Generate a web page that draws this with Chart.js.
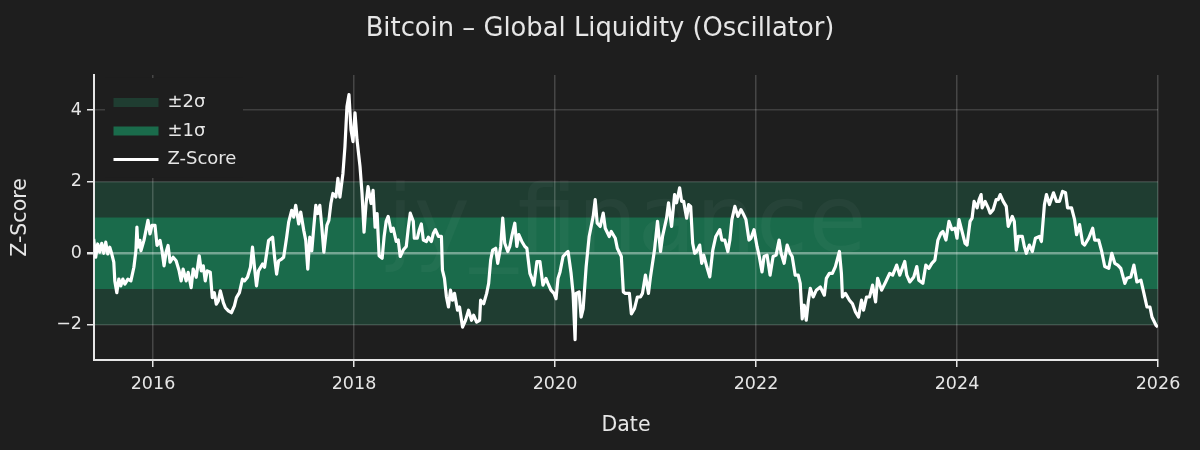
<!DOCTYPE html>
<html>
<head>
<meta charset="utf-8">
<title>Bitcoin – Global Liquidity (Oscillator)</title>
<script src="https://cdn.jsdelivr.net/npm/chart.js@4"></script>
<style>
  html, body { margin: 0; padding: 0; background: #1e1e1e; }
  canvas { display: block; }
</style>
</head>
<body>
<canvas id="liquidityChart" width="1200" height="450"></canvas>
<script>
// Values
const years = [
  2015.41, 2015.43, 2015.45, 2015.47, 2015.49, 2015.51, 2015.53, 2015.55, 2015.57, 2015.59, 2015.61, 2015.62, 2015.64, 2015.66, 2015.68, 2015.70,
  2015.72, 2015.75, 2015.78, 2015.81, 2015.83, 2015.84, 2015.85, 2015.87, 2015.88, 2015.91, 2015.93, 2015.95, 2015.97, 2015.99, 2016.02, 2016.04,
  2016.07, 2016.09, 2016.11, 2016.13, 2016.15, 2016.17, 2016.20, 2016.23, 2016.26, 2016.28, 2016.30, 2016.33, 2016.35, 2016.38, 2016.40, 2016.43,
  2016.46, 2016.48, 2016.50, 2016.52, 2016.54, 2016.57, 2016.59, 2016.61, 2016.63, 2016.65, 2016.67, 2016.70, 2016.72, 2016.75, 2016.78, 2016.81,
  2016.83, 2016.86, 2016.89, 2016.91, 2016.94, 2016.97, 2016.99, 2017.01, 2017.03, 2017.05, 2017.09, 2017.11, 2017.15, 2017.19, 2017.21, 2017.23,
  2017.25, 2017.28, 2017.30, 2017.33, 2017.35, 2017.38, 2017.40, 2017.42, 2017.45, 2017.47, 2017.50, 2017.52, 2017.54, 2017.56, 2017.58, 2017.60,
  2017.62, 2017.64, 2017.66, 2017.68, 2017.70, 2017.73, 2017.75, 2017.77, 2017.79, 2017.82, 2017.84, 2017.86, 2017.89, 2017.91, 2017.93, 2017.95,
  2017.97, 2017.99, 2018.01, 2018.03, 2018.06, 2018.08, 2018.10, 2018.12, 2018.14, 2018.17, 2018.19, 2018.21, 2018.23, 2018.25, 2018.28, 2018.30,
  2018.32, 2018.34, 2018.37, 2018.39, 2018.42, 2018.44, 2018.46, 2018.49, 2018.52, 2018.54, 2018.56, 2018.59, 2018.60, 2018.63, 2018.65, 2018.67,
  2018.69, 2018.72, 2018.74, 2018.77, 2018.79, 2018.81, 2018.84, 2018.87, 2018.88, 2018.90, 2018.92, 2018.94, 2018.96, 2018.98, 2019.00, 2019.03,
  2019.05, 2019.08, 2019.11, 2019.14, 2019.17, 2019.19, 2019.22, 2019.25, 2019.26, 2019.29, 2019.32, 2019.34, 2019.36, 2019.38, 2019.41, 2019.43,
  2019.46, 2019.48, 2019.50, 2019.53, 2019.55, 2019.57, 2019.60, 2019.62, 2019.64, 2019.67, 2019.70, 2019.72, 2019.75, 2019.77, 2019.79, 2019.82,
  2019.85, 2019.88, 2019.91, 2019.93, 2019.96, 2019.99, 2020.01, 2020.03, 2020.05, 2020.08, 2020.11, 2020.13, 2020.16, 2020.18, 2020.20, 2020.21,
  2020.24, 2020.26, 2020.28, 2020.31, 2020.34, 2020.38, 2020.40, 2020.42, 2020.45, 2020.48, 2020.50, 2020.54, 2020.56, 2020.60, 2020.62, 2020.66,
  2020.68, 2020.70, 2020.74, 2020.76, 2020.79, 2020.82, 2020.85, 2020.87, 2020.90, 2020.93, 2020.95, 2020.99, 2021.02, 2021.05, 2021.07, 2021.11,
  2021.13, 2021.16, 2021.19, 2021.21, 2021.24, 2021.26, 2021.28, 2021.31, 2021.33, 2021.35, 2021.37, 2021.39, 2021.41, 2021.44, 2021.46, 2021.48,
  2021.51, 2021.54, 2021.57, 2021.60, 2021.64, 2021.66, 2021.69, 2021.72, 2021.74, 2021.76, 2021.79, 2021.82, 2021.85, 2021.87, 2021.90, 2021.93,
  2021.95, 2021.98, 2022.01, 2022.03, 2022.06, 2022.08, 2022.11, 2022.14, 2022.17, 2022.20, 2022.23, 2022.25, 2022.28, 2022.31, 2022.34, 2022.36,
  2022.39, 2022.42, 2022.44, 2022.46, 2022.48, 2022.50, 2022.52, 2022.54, 2022.57, 2022.60, 2022.64, 2022.68, 2022.70, 2022.73, 2022.76, 2022.79,
  2022.83, 2022.85, 2022.86, 2022.89, 2022.93, 2022.96, 2022.99, 2023.02, 2023.05, 2023.07, 2023.10, 2023.13, 2023.16, 2023.19, 2023.21, 2023.25,
  2023.29, 2023.33, 2023.36, 2023.40, 2023.43, 2023.48, 2023.50, 2023.53, 2023.57, 2023.60, 2023.62, 2023.66, 2023.69, 2023.72, 2023.75, 2023.78,
  2023.81, 2023.84, 2023.86, 2023.89, 2023.92, 2023.95, 2023.98, 2024.00, 2024.02, 2024.05, 2024.08, 2024.10, 2024.13, 2024.15, 2024.17, 2024.20,
  2024.22, 2024.24, 2024.25, 2024.28, 2024.31, 2024.33, 2024.36, 2024.39, 2024.41, 2024.43, 2024.46, 2024.49, 2024.51, 2024.55, 2024.57, 2024.59,
  2024.61, 2024.65, 2024.67, 2024.69, 2024.72, 2024.75, 2024.78, 2024.82, 2024.84, 2024.87, 2024.89, 2024.92, 2024.96, 2024.99, 2025.02, 2025.05,
  2025.08, 2025.10, 2025.14, 2025.17, 2025.19, 2025.22, 2025.25, 2025.27, 2025.31, 2025.35, 2025.37, 2025.41, 2025.44, 2025.47, 2025.51, 2025.54,
  2025.57, 2025.60, 2025.63, 2025.67, 2025.69, 2025.73, 2025.76, 2025.79, 2025.83, 2025.86, 2025.89, 2025.92, 2025.94, 2025.98, 2026.00
];
const zScore = [
  0.40, -0.11, 0.26, 0.03, 0.28, 0, 0.31, -0.02, 0.17, -0.02, -0.25, -0.77, -1.10, -0.72, -0.91, -0.72,
  -0.86, -0.72, -0.77, -0.39, 0.07, 0.73, 0.17, 0.36, 0.07, 0.36, 0.64, 0.92, 0.54, 0.78, 0.78, 0.22,
  0.36, 0.07, -0.35, 0.03, 0.22, -0.25, -0.11, -0.21, -0.49, -0.77, -0.44, -0.77, -0.53, -0.96, -0.44, -0.67,
  -0.07, -0.49, -0.35, -0.77, -0.49, -0.53, -1.24, -1.10, -1.42, -1.33, -1.05, -1.38, -1.52, -1.61, -1.66, -1.47,
  -1.24, -1.10, -0.72, -0.77, -0.67, -0.39, 0.17, -0.39, -0.91, -0.49, -0.30, -0.39, 0.36, 0.45, -0.11, -0.58,
  -0.21, -0.16, -0.11, 0.45, 0.87, 1.20, 1.01, 1.34, 0.82, 1.15, 0.64, 0.36, -0.44, 0.45, 0.07, 0.73,
  1.34, 1.11, 1.34, 0.73, 0.03, 0.78, 0.92, 1.39, 1.67, 1.57, 2.09, 1.57, 2.23, 2.98, 4.10, 4.43,
  3.45, 3.12, 3.92, 3.17, 2.42, 1.67, 0.59, 1.39, 1.86, 1.39, 1.76, 0.73, 1.11, -0.07, -0.14, 0.47,
  0.89, 1.03, 0.61, 0.70, 0.33, 0.37, -0.09, 0.09, 0.19, 0.70, 1.12, 0.89, 0.42, 0.42, 0.66, 0.82,
  0.37, 0.33, 0.45, 0.33, 0.56, 0.66, 0.47, 0.47, -0.47, -0.70, -1.22, -1.50, -1.03, -1.31, -1.12, -1.59,
  -1.50, -2.06, -1.87, -1.59, -1.87, -1.73, -1.92, -1.87, -1.31, -1.41, -1.12, -0.84, -0.19, 0.09, 0.14, -0.28,
  0.19, 0.98, 0.28, 0.05, 0.19, 0.47, 0.84, 0.19, 0.52, 0.33, 0.19, 0.14, -0.56, -0.70, -0.89, -0.23,
  -0.23, -0.89, -0.70, -0.84, -1.03, -1.12, -1.27, -0.70, -0.52, -0.09, 0, 0.05, -0.56, -1.12, -2.41, -1.12,
  -1.08, -1.78, -1.55, -0.37, 0.47, 1.03, 1.50, 0.84, 0.75, 1.12, 0.70, 0.47, 0.61, 0.42, 0.14, -0.09,
  -1.08, -1.12, -1.12, -1.69, -1.55, -1.22, -1.22, -1.12, -0.61, -1.12, -0.66, 0.09, 0.89, 0.05, 0.47, 0.98,
  1.41, 0.75, 1.64, 1.41, 1.83, 1.45, 1.45, 0.98, 1.36, 1.31, 0.28, 0, 0.05, 0.23, -0.28, -0.05,
  -0.37, -0.66, 0.09, 0.47, 0.66, 0.37, 0.37, 0.05, 0.37, 0.94, 1.31, 1.03, 1.22, 1.12, 0.94, 0.37,
  0.42, 0.66, 0.19, -0.05, -0.52, -0.09, -0.05, -0.61, -0.09, -0.05, 0.37, 0, -0.28, 0.23, 0, -0.09,
  -0.61, -0.61, -0.84, -1.83, -1.45, -1.87, -1.36, -0.98, -1.22, -1.03, -0.94, -1.17, -0.70, -0.56, -0.56, -0.37,
  0.05, -0.56, -1.22, -1.12, -1.31, -1.41, -1.64, -1.78, -1.31, -1.59, -1.22, -1.22, -0.89, -1.36, -0.70, -1.03,
  -0.80, -0.56, -0.61, -0.33, -0.61, -0.23, -0.61, -0.80, -0.66, -0.37, -0.75, -0.84, -0.33, -0.42, -0.28, -0.19,
  0.37, 0.56, 0.61, 0.37, 0.89, 0.66, 0.70, 0.42, 0.94, 0.61, 0.28, 0.23, 0.89, 0.98, 1.45, 1.27,
  1.50, 1.64, 1.27, 1.45, 1.27, 1.12, 1.22, 1.50, 1.50, 1.64, 1.45, 1.31, 0.75, 1.03, 0.89, 0.09,
  0.47, 0.47, 0.19, 0, 0.23, 0.05, 0.42, 0.47, 0.33, 1.36, 1.64, 1.36, 1.69, 1.45, 1.45, 1.73,
  1.69, 1.27, 1.27, 0.94, 0.52, 0.80, 0.28, 0.23, 0.42, 0.70, 0.37, 0.37, 0.05, -0.37, -0.42, 0,
  -0.28, -0.33, -0.42, -0.84, -0.70, -0.66, -0.33, -0.80, -0.75, -1.12, -1.50, -1.50, -1.78, -2.01, -2.06
];
const xRange = [2015.413, 2026];
const yRange = [-2.98, 4.98];
const xTickValues = [2016, 2018, 2020, 2022, 2024, 2026];
const yTickValues = [-2, 0, 2, 4];
const band2Sigma = [2, 2];
const band1Sigma = [1, 1];

const textColor = "#e6e6e6";
const fontFamily = "'DejaVu Sans', sans-serif";

// Legend sits on its own dark box, above the gridlines, with the watermark behind the line
const backdropPlugin = {
  id: "backdrop",
  afterLayout(chart) {
    // a legend in the chart area resets its top to 0, so put it back
    const legend = chart.legend;
    legend.left = chart.chartArea.left + 9;
    legend.top = chart.chartArea.top + 8;
    legend.bottom = chart.chartArea.bottom;
    // title is centred on the whole page, not on the padded box
    chart.titleBlock.right = chart.width;
  },
  beforeDatasetsDraw(chart) {
    const { ctx, legend, chartArea } = chart;
    ctx.save();
    ctx.fillStyle = "#1e1e1e";
    ctx.fillRect(chartArea.left + 11, chartArea.top + 3, 138, 100);
    ctx.restore();
    legend.draw();

    ctx.save();
    ctx.fillStyle = "rgba(255, 255, 255, 0.035)";
    ctx.font = "95px 'DejaVu Sans', sans-serif";
    ctx.textAlign = "center";
    ctx.textBaseline = "alphabetic";
    ctx.fillText("jy_finance", 627, 252);
    ctx.restore();
  },
};

const chart = new Chart(document.getElementById("liquidityChart").getContext("2d"), {
  type: "line",
  data: {
    datasets: [
      {
        label: "±2σ",
        data: xRange.map((x, i) => ({ x: x, y: band2Sigma[i] })),
        borderWidth: 0,
        pointRadius: 0,
        backgroundColor: "#1f3d31",
        fill: { target: { value: -2 } },
        order: 3,
      },
      {
        label: "±1σ",
        data: xRange.map((x, i) => ({ x: x, y: band1Sigma[i] })),
        borderWidth: 0,
        pointRadius: 0,
        backgroundColor: "#1a6b4b",
        fill: { target: { value: -1 } },
        order: 2,
      },
      {
        label: "Z-Score",
        data: years.map((x, i) => ({ x: x, y: zScore[i] })),
        borderColor: "#ffffff",
        backgroundColor: "#ffffff",
        borderWidth: 3.2,
        borderJoinStyle: "round",
        pointRadius: 0,
        tension: 0,
        fill: false,
        order: 1,
      },
    ],
  },
  options: {
    responsive: false,
    animation: false,
    layout: { padding: { left: 0, right: 42, top: 0, bottom: 0 } },
    plugins: {
      // fills go under the gridlines, so the grid shows on top of the bands
      filler: { drawTime: "beforeDraw" },
      title: {
        display: true,
        text: "Bitcoin – Global Liquidity (Oscillator)",
        color: textColor,
        font: { family: fontFamily, size: 25.8, weight: "normal" },
        padding: { top: 14, bottom: 30 },
      },
      legend: {
        position: "chartArea",
        align: "start",
        labels: {
          color: textColor,
          font: { family: fontFamily, size: 18 },
          usePointStyle: true,
          pointStyleWidth: 45,
          boxHeight: 9,
          padding: 10.5,
          generateLabels(chart) {
            return chart.data.datasets.map((ds, i) => ({
              text: ds.label,
              datasetIndex: i,
              fontColor: textColor,
              fillStyle: ds.backgroundColor,
              strokeStyle: ds.backgroundColor,
              lineWidth: i === 2 ? 3 : 0,
              pointStyle: i === 2 ? "line" : "rect",
            }));
          },
        },
      },
      tooltip: { enabled: false },
    },
    scales: {
      x: {
        type: "linear",
        min: xRange[0],
        max: xRange[1],
        afterBuildTicks(scale) {
          scale.ticks = xTickValues.map((v) => ({ value: v }));
        },
        afterFit(scale) {
          scale.height = 90;
        },
        border: { color: "#e6e6e6", width: 2 },
        grid: {
          color: "rgba(255, 255, 255, 0.18)",
          lineWidth: 1.5,
          tickColor: "#e6e6e6",
          tickLength: 7,
        },
        ticks: {
          color: textColor,
          font: { family: fontFamily, size: 17.5 },
          padding: 7,
          maxRotation: 0,
          callback: (v) => String(v),
        },
        title: {
          display: true,
          text: "Date",
          color: textColor,
          font: { family: fontFamily, size: 20.5 },
          padding: { top: 14, bottom: 12 },
        },
      },
      y: {
        min: yRange[0],
        max: yRange[1],
        afterBuildTicks(scale) {
          scale.ticks = yTickValues.map((v) => ({ value: v }));
        },
        afterFit(scale) {
          scale.width = 94;
        },
        border: { color: "#e6e6e6", width: 2 },
        grid: {
          color: (ctx) => (ctx.tick && ctx.tick.value === 0 ? "rgba(255, 255, 255, 0.4)" : "rgba(255, 255, 255, 0.15)"),
          lineWidth: (ctx) => (ctx.tick && ctx.tick.value === 0 ? 2.5 : 1.5),
          tickColor: "#e6e6e6",
          tickLength: 7,
        },
        ticks: {
          color: textColor,
          font: { family: fontFamily, size: 17.5 },
          padding: 5,
          callback: (v) => String(v).replace("-", "−"),
        },
        title: {
          display: true,
          text: "Z-Score",
          color: textColor,
          font: { family: fontFamily, size: 20.5 },
          padding: { top: 8, bottom: 6 },
        },
      },
    },
  },
  plugins: [backdropPlugin],
});
</script>
</body>
</html>
